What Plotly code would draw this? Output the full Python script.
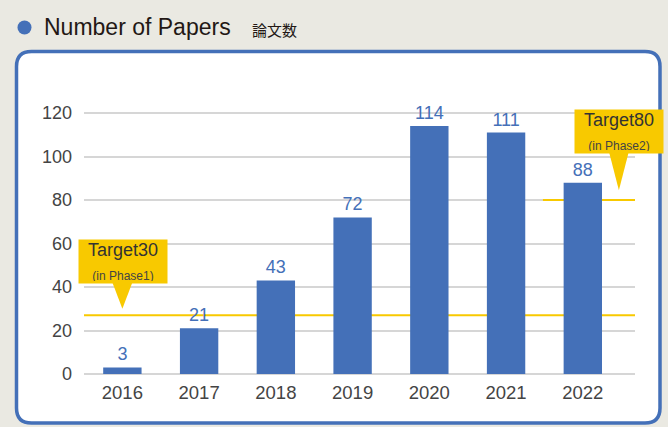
import plotly.graph_objects as go

years = ["2016", "2017", "2018", "2019", "2020", "2021", "2022"]
papers = [3, 21, 43, 72, 114, 111, 88]
y_ticks = [0, 20, 40, 60, 80, 100, 120]
target_values = [27, 80]
target_labels = ["Target30", "Target80"]
target_phases = ["(in Phase1)", "(in Phase2)"]

W, H = 668, 427
L, R, T, B = 84, 33, 100, 53
X_RANGE = [-0.5, 6.68]
Y_RANGE = [0, 126]

BLUE = "#4470B8"
YELLOW = "#F8C900"
GRID = "#D6D6D6"
FONT = "Liberation Sans, Arial"

def px2paper_x(px):
    return (px - L) / (W - L - R)

def px2paper_y(py):
    return (H - B - py) / (H - T - B)

fig = go.Figure()
fig.add_trace(go.Bar(
    x=list(range(len(years))), y=papers, width=0.5,
    marker=dict(color=BLUE, line=dict(width=0)),
    text=[str(v) for v in papers], textposition="outside",
    textfont=dict(color=BLUE, size=18, family=FONT),
    cliponaxis=False, hoverinfo="skip",
))

shapes = []
# white rounded panel
x0, x1 = px2paper_x(16.5), px2paper_x(660)
y0, y1 = px2paper_y(51.5), px2paper_y(423)
rx = 15 / (W - L - R)
ry = 15 / (H - T - B)
path = (f"M {x0+rx},{y0} L {x1-rx},{y0} Q {x1},{y0} {x1},{y0-ry} "
        f"L {x1},{y1+ry} Q {x1},{y1} {x1-rx},{y1} "
        f"L {x0+rx},{y1} Q {x0},{y1} {x0},{y1+ry} "
        f"L {x0},{y0-ry} Q {x0},{y0} {x0+rx},{y0} Z")
shapes.append(dict(type="path", path=path, xref="paper", yref="paper",
                   fillcolor="white", line=dict(color=BLUE, width=3.5), layer="below"))

# target lines (above gridlines, behind bars)
shapes.append(dict(type="line", xref="x", yref="y", x0=X_RANGE[0], x1=X_RANGE[1],
                   y0=target_values[0], y1=target_values[0],
                   line=dict(color=YELLOW, width=2), layer="between"))
shapes.append(dict(type="line", xref="x", yref="y", x0=5.48, x1=X_RANGE[1],
                   y0=target_values[1], y1=target_values[1],
                   line=dict(color=YELLOW, width=2), layer="between"))

# callout triangles
tri = [(0.0, 30.0, 42.5), (6.47, 84.5, 103.0)]
for tx, ty, tb in tri:
    shapes.append(dict(type="path", xref="x", yref="y",
                       path=f"M {tx-0.135},{tb} L {tx+0.135},{tb} L {tx},{ty} Z",
                       fillcolor=YELLOW, line=dict(width=0), layer="above"))

# title dot
shapes.append(dict(type="circle", xref="paper", yref="paper",
                   x0=px2paper_x(17.5), x1=px2paper_x(31.5),
                   y0=px2paper_y(20.5), y1=px2paper_y(34.5),
                   fillcolor=BLUE, line=dict(width=0)))

annotations = [
    dict(text="Number of Papers", xref="paper", yref="paper",
         x=px2paper_x(42), y=px2paper_y(27), xanchor="left", yanchor="middle",
         showarrow=False, font=dict(size=23, color="#231815", family=FONT)),
    dict(text="論文数", xref="paper", yref="paper",
         x=px2paper_x(250), y=px2paper_y(29), xanchor="left", yanchor="middle",
         showarrow=False, font=dict(size=15, color="#231815", family="Noto Sans CJK JP")),
]
boxes = [(0.01, 51.8), (6.47, 111.7)]
for (bx, by), lab, ph in zip(boxes, target_labels, target_phases):
    annotations.append(dict(
        text=f"{lab}<br><span style='font-size:12px;color:#444444'>{ph}</span>",
        xref="x", yref="y", x=bx, y=by, xanchor="center", yanchor="middle",
        showarrow=False, bgcolor=YELLOW, width=84, height=39, borderpad=2,
        font=dict(size=18, color="#333333", family=FONT),
        align="center"))

fig.update_layout(
    width=W, height=H, margin=dict(l=L, r=R, t=T, b=B),
    paper_bgcolor="#EAE9E2", plot_bgcolor="rgba(0,0,0,0)",
    showlegend=False, shapes=shapes, annotations=annotations,
    xaxis=dict(range=X_RANGE, tickmode="array", tickvals=list(range(len(years))),
               ticktext=years, showgrid=False, zeroline=False, showline=False,
               ticks="", tickfont=dict(size=18.5, color="#444444", family=FONT),
               ticklabelstandoff=5),
    yaxis=dict(range=Y_RANGE, tickmode="array", tickvals=y_ticks,
               showgrid=True, gridcolor=GRID, gridwidth=1.5, zeroline=True,
               zerolinecolor=GRID, zerolinewidth=1.5, showline=False, ticks="",
               tickfont=dict(size=18, color="#444444", family=FONT),
               ticklabelstandoff=11),
)

fig.write_html("out.html", config={"displayModeBar": False},
               post_script="document.body.style.margin='0';")
